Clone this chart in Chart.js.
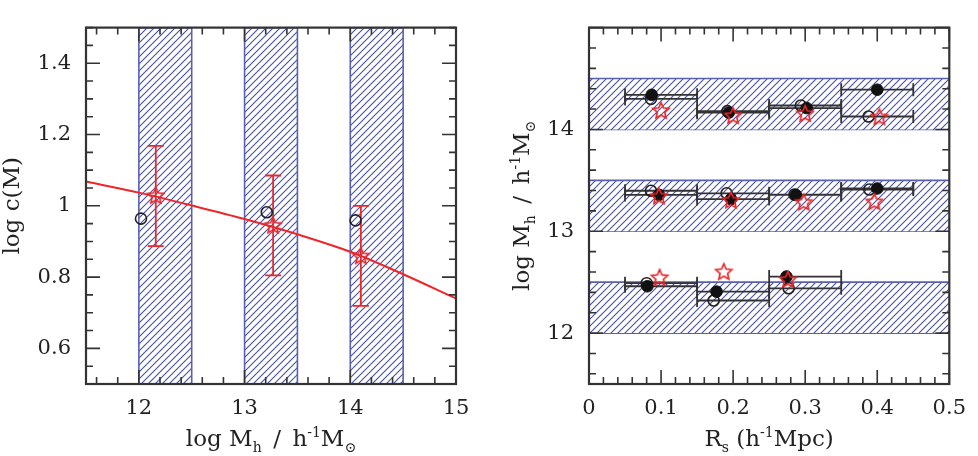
<!DOCTYPE html>
<html>
<head>
<meta charset="utf-8">
<script src="https://cdn.jsdelivr.net/npm/chart.js"></script>
<style>
  body { margin: 0; background: #fff; }
  #wrap { position: relative; width: 978px; height: 456px; }
  canvas { position: absolute; top: 0; }
</style>
</head>
<body>
<div id="wrap">
  <canvas id="leftChart" width="489" height="456" style="left:0"></canvas>
  <canvas id="rightChart" width="489" height="456" style="left:489px"></canvas>
</div>
<script>
// left panel: log c(M) vs log M_h
const massBands = [[12, 12.5], [13, 13.5], [14, 14.5]];
const fitMass = [11.5, 12, 12.5, 13, 13.5, 14, 14.5, 15];
const fitLogC = [1.068, 1.037, 1.001, 0.963, 0.920, 0.871, 0.808, 0.740];
const starMass = [12.16, 13.27, 14.10];
const starLogC = [1.027, 0.944, 0.858];
const starLo = [0.887, 0.805, 0.719];
const starHi = [1.168, 1.085, 1.000];
const openMass = [12.02, 13.21, 14.05];
const openLogC = [0.964, 0.982, 0.959];
const leftXTicks = [12, 13, 14, 15];
const leftYTicks = [0.6, 0.8, 1, 1.2, 1.4];

// right panel: log M_h vs R_s
const rsBands = [[12, 12.5], [13, 13.5], [14, 14.5]];
const binLo = [0.05, 0.15, 0.25, 0.35];
const binHi = [0.15, 0.25, 0.35, 0.45];
const filledBin = [0, 1, 2, 3, 0, 1, 2, 3, 0, 1, 2];
const filledRs = [0.087, 0.194, 0.302, 0.400, 0.097, 0.197, 0.287, 0.400, 0.081, 0.177, 0.274];
const filledM = [14.34, 14.165, 14.21, 14.39, 13.357, 13.316, 13.357, 13.42, 12.46, 12.407, 12.555];
const openBin = [0, 1, 2, 3, 0, 1, 2, 3, 0, 1, 2];
const openRs = [0.086, 0.192, 0.294, 0.388, 0.086, 0.191, 0.285, 0.389, 0.080, 0.173, 0.277];
const openM = [14.30, 14.18, 14.235, 14.127, 13.398, 13.373, 13.36, 13.41, 12.49, 12.32, 12.44];
const starRs = [0.100, 0.200, 0.300, 0.403, 0.097, 0.197, 0.298, 0.396, 0.098, 0.187, 0.276];
const starM = [14.18, 14.13, 14.15, 14.118, 13.34, 13.30, 13.28, 13.285, 12.54, 12.597, 12.52];
const rightXTicks = [0, 0.1, 0.2, 0.3, 0.4, 0.5];
const rightYTicks = [12, 13, 14];

const FONT = '"DejaVu Serif", "Liberation Serif", serif';
const RED = '#ec2629';
const BLUE = '#5860b2';

// hatch pattern ("/" lines)
function makeHatch() {
  const p = 7;
  const c = document.createElement('canvas');
  c.width = p; c.height = p;
  const g = c.getContext('2d');
  g.fillStyle = '#fff';
  g.fillRect(0, 0, p, p);
  g.strokeStyle = '#4850a6';
  g.lineWidth = 1.1;
  g.beginPath();
  g.moveTo(-1, p + 1); g.lineTo(p + 1, -1);
  g.moveTo(-1, 1); g.lineTo(1, -1);
  g.moveTo(p - 1, p + 1); g.lineTo(p + 1, p - 1);
  g.stroke();
  return g.createPattern(c, 'repeat');
}
const hatch = makeHatch();

// open 5-point star used as point style
function makeStar() {
  const s = 22, R = 8.5, r = 4;
  const c = document.createElement('canvas');
  c.width = s; c.height = s;
  const g = c.getContext('2d');
  g.strokeStyle = RED;
  g.lineWidth = 1.7;
  g.beginPath();
  for (let i = 0; i < 10; i++) {
    const a = -Math.PI / 2 + i * Math.PI / 5;
    const rad = i % 2 ? r : R;
    const px = s / 2 + rad * Math.cos(a), py = s / 2 + rad * Math.sin(a);
    if (i === 0) g.moveTo(px, py); else g.lineTo(px, py);
  }
  g.closePath();
  g.stroke();
  return c;
}
const starImg = makeStar();

function stepValues(min, max, step) {
  const out = [];
  for (let k = Math.ceil(min / step - 1e-6); k * step <= max + 1e-6; k++) out.push(+(k * step).toFixed(6));
  return out;
}
function isMajor(v, major) {
  const q = v / major;
  return Math.abs(q - Math.round(q)) < 1e-6;
}

// frame with inward ticks on all four sides
function frameTicks(xMinor, xMajor, yMinor, yMajor) {
  return {
    id: 'frameTicks',
    afterDatasetsDraw(chart) {
      const { ctx, chartArea: a, scales: { x, y } } = chart;
      ctx.save();
      ctx.strokeStyle = '#333';
      ctx.lineWidth = 1.6;
      ctx.beginPath();
      stepValues(x.min, x.max, xMinor).forEach(v => {
        const px = x.getPixelForValue(v);
        const len = isMajor(v, xMajor) ? 14 : 7;
        ctx.moveTo(px, a.bottom); ctx.lineTo(px, a.bottom - len);
        ctx.moveTo(px, a.top); ctx.lineTo(px, a.top + len);
      });
      stepValues(y.min, y.max, yMinor).forEach(v => {
        const py = y.getPixelForValue(v);
        const len = isMajor(v, yMajor) ? 14 : 7;
        ctx.moveTo(a.left, py); ctx.lineTo(a.left + len, py);
        ctx.moveTo(a.right, py); ctx.lineTo(a.right - len, py);
      });
      ctx.stroke();
      ctx.lineWidth = 2.2;
      ctx.strokeRect(a.left, a.top, a.right - a.left, a.bottom - a.top);
      ctx.restore();
    }
  };
}

// text with sub/superscripts: parts = [{t, s}] with s = 0 normal, -1 sub, 1 sup
function drawRich(ctx, parts, cx, cy, rot) {
  const big = '23px ' + FONT, small = '14px ' + FONT;
  let w = 0;
  const widths = parts.map(p => {
    ctx.font = p.s ? small : big;
    const m = ctx.measureText(p.t).width;
    w += m;
    return m;
  });
  ctx.save();
  ctx.translate(cx, cy);
  ctx.rotate(rot);
  ctx.fillStyle = '#222';
  ctx.textBaseline = 'alphabetic';
  ctx.textAlign = 'left';
  let xx = -w / 2;
  parts.forEach((p, i) => {
    ctx.font = p.s ? small : big;
    ctx.fillText(p.t, xx, p.s === -1 ? 6 : p.s === 1 ? -9 : 0);
    xx += widths[i];
  });
  ctx.restore();
}

function titles(xParts, yParts, yX) {
  return {
    id: 'titles',
    afterDraw(chart) {
      const { ctx, chartArea: a } = chart;
      drawRich(ctx, xParts, (a.left + a.right) / 2, 446, 0);
      drawRich(ctx, yParts, yX, (a.top + a.bottom) / 2, -Math.PI / 2);
    }
  };
}

function makeOptions(cfg) {
  return {
    responsive: false,
    animation: false,
    devicePixelRatio: 1,
    layout: { padding: cfg.pad },
    plugins: { legend: { display: false }, tooltip: { enabled: false } },
    scales: {
      x: {
        type: 'linear', min: cfg.xmin, max: cfg.xmax,
        grid: { display: false, drawTicks: false }, border: { display: false },
        afterBuildTicks: s => { s.ticks = cfg.xTicks.map(v => ({ value: v })); },
        afterFit: s => { s.height = 72; },
        ticks: { padding: 12, color: '#222', font: { family: FONT, size: 21 }, maxRotation: 0, autoSkip: false, callback: v => String(v) }
      },
      y: {
        type: 'linear', min: cfg.ymin, max: cfg.ymax,
        grid: { display: false, drawTicks: false }, border: { display: false },
        afterBuildTicks: s => { s.ticks = cfg.yTicks.map(v => ({ value: v })); },
        afterFit: s => { s.width = cfg.yWidth; },
        ticks: { padding: 15, color: '#222', font: { family: FONT, size: 21 }, autoSkip: false, callback: v => String(v) }
      }
    }
  };
}

const massTitle = [
  { t: 'log M', s: 0 }, { t: 'h', s: -1 }, { t: '\u2002/\u2002h', s: 0 },
  { t: '-1', s: 1 }, { t: 'M', s: 0 }, { t: '\u2299', s: -1 }
];

// ---------- left chart ----------
const leftSets = [];
massBands.forEach(b => {
  leftSets.push({
    data: [{ x: b[0], y: 0.5 }, { x: b[0], y: 1.5 }, { x: b[1], y: 1.5 }, { x: b[1], y: 0.5 }],
    showLine: true, pointRadius: 0, borderColor: BLUE, borderWidth: 1.6,
    backgroundColor: hatch, fill: { value: 0.5 }, order: 10
  });
});
leftSets.push({
  data: fitMass.map((m, i) => ({ x: m, y: fitLogC[i] })),
  showLine: true, pointRadius: 0, borderColor: RED, borderWidth: 2,
  cubicInterpolationMode: 'monotone', fill: false, order: 6
});
const leftErr = [];
starMass.forEach((m, i) => {
  leftErr.push({ x: m, y: starLo[i] }, { x: m, y: starHi[i] }, { x: m, y: null });
});
leftSets.push({
  data: leftErr, showLine: true, spanGaps: false, borderColor: RED, borderWidth: 1.8,
  pointStyle: 'line', rotation: 0, pointRadius: 8, pointBorderWidth: 1.8,
  pointBorderColor: RED, fill: false, order: 5
});
leftSets.push({
  data: openMass.map((m, i) => ({ x: m, y: openLogC[i] })),
  pointStyle: 'circle', pointRadius: 5.5, pointBorderWidth: 1.6,
  pointBorderColor: '#222', pointBackgroundColor: 'rgba(0,0,0,0)', order: 3
});
leftSets.push({
  data: starMass.map((m, i) => ({ x: m, y: starLogC[i] })),
  pointStyle: starImg, pointRadius: 9, order: 1
});

new Chart(document.getElementById('leftChart'), {
  type: 'scatter',
  data: { datasets: leftSets },
  options: makeOptions({
    xmin: 11.5, xmax: 15, ymin: 0.5, ymax: 1.5, xTicks: leftXTicks, yTicks: leftYTicks,
    yWidth: 86, pad: { left: 0, top: 14, right: 33, bottom: 0 }
  }),
  plugins: [
    frameTicks(0.2, 1, 0.05, 0.2),
    titles(massTitle, [{ t: 'log c(M)', s: 0 }], 19)
  ]
});

// ---------- right chart ----------
const rightSets = [];
rsBands.forEach(b => {
  rightSets.push({
    data: [{ x: 0, y: b[1] }, { x: 0.5, y: b[1] }],
    showLine: true, pointRadius: 0, borderColor: BLUE, borderWidth: 1.6,
    backgroundColor: hatch, fill: '+1', order: 10
  });
  rightSets.push({
    data: [{ x: 0, y: b[0] }, { x: 0.5, y: b[0] }],
    showLine: true, pointRadius: 0, borderColor: BLUE, borderWidth: 1.6,
    fill: false, order: 10
  });
});
const rightErr = [];
filledRs.forEach((r, i) => {
  const b = filledBin[i];
  rightErr.push({ x: binLo[b], y: filledM[i] }, { x: binHi[b], y: filledM[i] }, { x: binHi[b], y: null });
});
openRs.forEach((r, i) => {
  const b = openBin[i];
  rightErr.push({ x: binLo[b], y: openM[i] }, { x: binHi[b], y: openM[i] }, { x: binHi[b], y: null });
});
rightSets.push({
  data: rightErr, showLine: true, spanGaps: false, borderColor: '#333', borderWidth: 1.8,
  pointStyle: 'line', rotation: 90, pointRadius: 6.5, pointBorderWidth: 1.8,
  pointBorderColor: '#333', fill: false, order: 5
});
rightSets.push({
  data: openRs.map((r, i) => ({ x: r, y: openM[i] })),
  pointStyle: 'circle', pointRadius: 5.5, pointBorderWidth: 1.6,
  pointBorderColor: '#222', pointBackgroundColor: 'rgba(0,0,0,0)', order: 4
});
rightSets.push({
  data: filledRs.map((r, i) => ({ x: r, y: filledM[i] })),
  pointStyle: 'circle', pointRadius: 5.8, pointBorderWidth: 1,
  pointBorderColor: '#111', pointBackgroundColor: '#111', order: 3
});
rightSets.push({
  data: starRs.map((r, i) => ({ x: r, y: starM[i] })),
  pointStyle: starImg, pointRadius: 9, order: 1
});

new Chart(document.getElementById('rightChart'), {
  type: 'scatter',
  data: { datasets: rightSets },
  options: makeOptions({
    xmin: 0, xmax: 0.5, ymin: 11.5, ymax: 15, xTicks: rightXTicks, yTicks: rightYTicks,
    yWidth: 100, pad: { left: 0, top: 15, right: 19, bottom: 0 }
  }),
  plugins: [
    frameTicks(0.02, 0.1, 0.2, 1),
    titles(
      [{ t: 'R', s: 0 }, { t: 's', s: -1 }, { t: ' (h', s: 0 }, { t: '-1', s: 1 }, { t: 'Mpc)', s: 0 }],
      massTitle,
      40
    )
  ]
});
</script>
</body>
</html>
